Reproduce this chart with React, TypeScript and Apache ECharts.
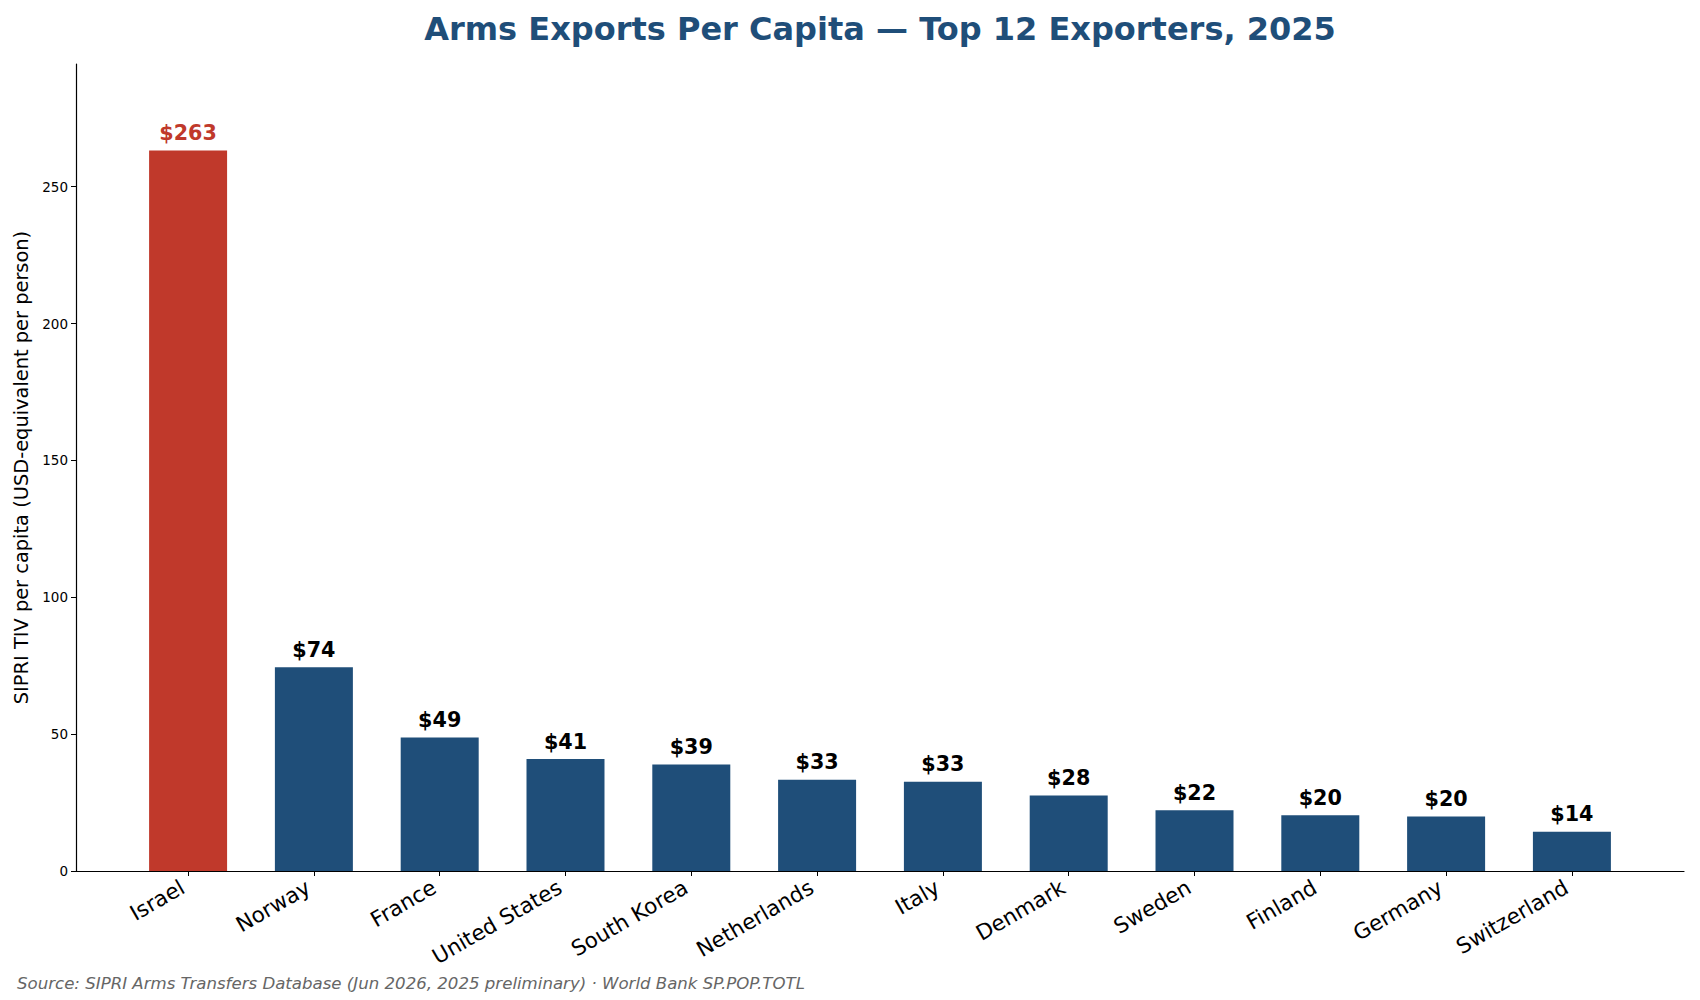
import React, { useEffect, useRef } from "react";
import * as echarts from "echarts";

const categories = [
  "Israel", "Norway", "France", "United States", "South Korea", "Netherlands",
  "Italy", "Denmark", "Sweden", "Finland", "Germany", "Switzerland",
];
const values = [263.2, 74.4, 48.8, 40.9, 38.9, 33.3, 32.6, 27.6, 22.2, 20.4, 19.9, 14.3];
const yTicks = [0, 50, 100, 150, 200, 250];

const RED = "#c0392b";
const BLUE = "#1f4e79";
const FONT = "DejaVu Sans";

export default function App() {
  const ref = useRef<HTMLDivElement>(null);
  useEffect(() => {
    document.body.style.margin = "0";
    if (!ref.current) return;
    const chart = echarts.init(ref.current, null, { renderer: "svg" });
    const gridLeft = 76;
    const gridRight = 1700 - 1684;
    const gridWidth = 1700 - gridLeft - gridRight;
    const xMin = -0.891;
    const xMax = categories.length - 1 + 0.891;
    const band = gridWidth / (xMax - xMin);
    const idx = categories.map((_, i) => i);
    chart.setOption({
      animation: false,
      textStyle: { fontFamily: FONT },
      title: {
        text: "Arms Exports Per Capita — Top 12 Exporters, 2025",
        left: gridLeft + gridWidth / 2 - 5,
        textAlign: "center",
        top: 8,
        textStyle: { fontFamily: FONT, fontSize: 32, fontWeight: "bold", color: BLUE },
      },
      grid: { left: gridLeft, right: gridRight, top: 64, bottom: 1000 - 871, containLabel: false },
      xAxis: {
        type: "value",
        min: xMin,
        max: xMax,
        splitLine: { show: false },
        axisLine: { show: true, onZero: false, lineStyle: { color: "#000", width: 1.2 } },
        axisTick: { show: true, customValues: idx, length: 5, lineStyle: { color: "#000" } },
        axisLabel: {
          customValues: idx,
          formatter: (v: number) => categories[Math.round(v)] ?? "",
          rotate: 30,
          align: "right",
          verticalAlign: "bottom",
          fontSize: 21.5,
          color: "#000",
          fontFamily: FONT,
          margin: 24,
        },
      },
      yAxis: {
        type: "value",
        min: 0,
        max: 294.8,
        interval: 50,
        splitLine: { show: false },
        axisLine: { show: true, onZero: false, lineStyle: { color: "#000", width: 1.2 } },
        axisTick: { show: true, customValues: yTicks, length: 5, lineStyle: { color: "#000" } },
        axisLabel: {
          customValues: yTicks,
          fontSize: 13.5,
          color: "#000",
          fontFamily: FONT,
          margin: 8,
        },
        name: "SIPRI TIV per capita (USD-equivalent per person)",
        nameLocation: "middle",
        nameGap: 44,
        nameTextStyle: { fontSize: 19.4, color: "#000", fontFamily: FONT },
      },
      series: [
        {
          type: "bar",
          barWidth: band * 0.62,
          data: values.map((v, i) => ({
            value: [i, v],
            itemStyle: { color: i === 0 ? RED : BLUE },
            label: { color: i === 0 ? RED : "#000" },
          })),
          label: {
            show: true,
            position: "top",
            distance: 7,
            fontSize: 20.7,
            fontWeight: "bold",
            fontFamily: FONT,
            formatter: (p: any) => "$" + Math.round(p.value[1]),
          },
        },
      ],
      graphic: [
        {
          type: "text",
          left: 17,
          top: 975,
          style: {
            text: "Source: SIPRI Arms Transfers Database (Jun 2026, 2025 preliminary) · World Bank SP.POP.TOTL",
            fontFamily: FONT,
            fontStyle: "italic",
            fontSize: 16.6,
            fill: "#666",
          },
        },
      ],
    });
    return () => chart.dispose();
  }, []);
  return <div ref={ref} style={{ width: 1700, height: 1000 }} />;
}
